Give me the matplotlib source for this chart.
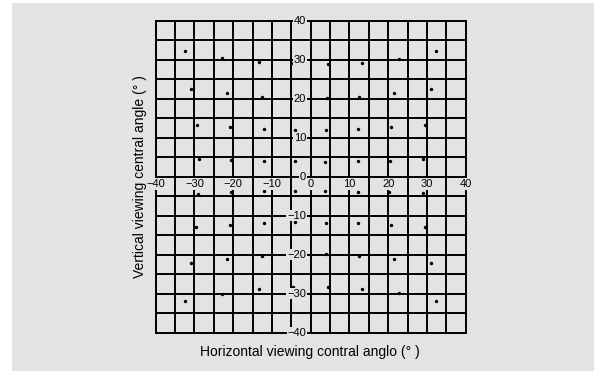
import matplotlib
matplotlib.use("Agg")
import matplotlib.pyplot as plt
from matplotlib.patches import Rectangle

plt.rcParams['font.family'] = ['Liberation Sans', 'DejaVu Sans']

h_angle = [-32.4, -23.0, -13.3, -4.6, 4.5, 13.2, 22.9, 32.3,
           -31.0, -21.5, -12.5, -4.3, 4.1, 12.5, 21.6, 31.0,
           -29.4, -20.8, -12.1, -4.0, 3.9, 12.1, 20.7, 29.5,
           -28.9, -20.5, -12.1, -4.0, 3.8, 12.1, 20.5, 29.1,
           -29.2, -20.6, -12.1, -4.0, 3.7, 12.1, 20.3, 29.1,
           -29.6, -20.8, -12.1, -4.0, 3.9, 12.1, 20.7, 29.5,
           -31.0, -21.7, -12.6, -4.1, 3.9, 12.5, 21.6, 31.0,
           -32.5, -23.0, -13.3, -4.5, 4.5, 13.2, 22.9, 32.3]
v_angle = [32.2, 30.4, 29.3, 29.1, 28.8, 29.2, 30.2, 32.2,
           22.5, 21.5, 20.5, 20.3, 20.3, 20.5, 21.4, 22.4,
           13.3, 12.7, 12.3, 12.1, 12.0, 12.2, 12.7, 13.3,
           4.6, 4.2, 4.1, 4.0, 3.8, 4.0, 4.1, 4.5,
           -4.4, -3.9, -3.7, -3.7, -3.7, -3.8, -3.8, -4.3,
           -13.0, -12.3, -11.8, -11.7, -11.8, -11.8, -12.4, -13.0,
           -22.2, -21.1, -20.3, -20.0, -19.8, -20.3, -21.1, -22.2,
           -31.8, -30.2, -28.8, -28.4, -28.4, -28.8, -29.9, -31.8]

grid_lines = [-40, -35, -30, -25, -20, -15, -10, -5, 0, 5, 10, 15, 20, 25, 30, 35, 40]
tick_vals = [-40, -30, -20, -10, 0, 10, 20, 30, 40]
tick_text = ['\u221240', '\u221230', '\u221220', '\u221210', '0', '10', '20', '30', '40']

gray = '#e3e3e3'

fig = plt.figure(figsize=(5.94, 3.71), dpi=100)
fig.patch.set_facecolor('white')
fig.patches.append(Rectangle((12/594, 0), 1, 1 - 3/371, transform=fig.transFigure,
                             facecolor=gray, edgecolor='none', zorder=-5))

ax = fig.add_axes([0.2621, 0.1032, 0.5219, 0.841])
ax.set_zorder(2)
ax.set_facecolor(gray)
ax.set_xlim(-40, 40)
ax.set_ylim(-40, 40)
ax.set_xticks([])
ax.set_yticks([])
for s in ax.spines.values():
    s.set_linewidth(1.4)

for g in grid_lines:
    ax.axvline(g, color='black', lw=1.4, zorder=1)
    ax.axhline(g, color='black', lw=1.4, zorder=1)

ax.scatter(h_angle, v_angle, s=6, color='black', linewidths=0, zorder=2)

box = dict(facecolor=gray, edgecolor='none', pad=0.6)
for t, lab in zip(tick_vals, tick_text):
    ax.text(t, -1.8, lab, ha='center', va='center', fontsize=8, bbox=box, zorder=3, clip_on=False)
    ax.text(-1.2, t, lab, ha='right', va='center', fontsize=8, bbox=box, zorder=3, clip_on=False)

fig.text(0.522, 0.051, 'Horizontal viewing contral anglo (\u00b0 )', ha='center', va='center', fontsize=10)
fig.text(0.236, 0.524, 'Vertical viewing central angle (\u00b0 )', ha='center', va='center',
         rotation=90, fontsize=10)

fig.savefig('out.png', dpi=100, facecolor=fig.get_facecolor())
